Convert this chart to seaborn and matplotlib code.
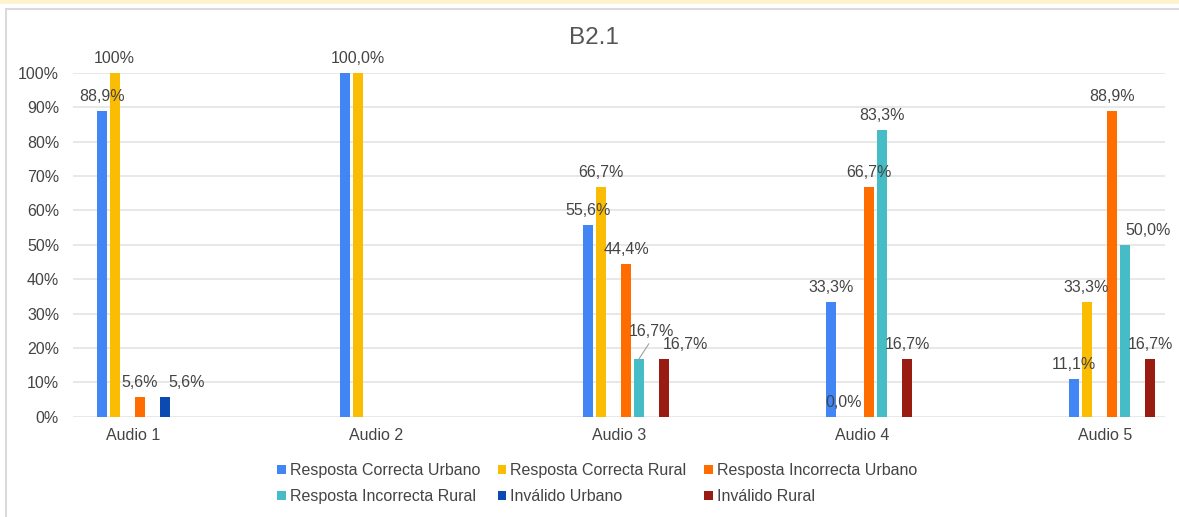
import numpy as np
import pandas as pd
import matplotlib
matplotlib.use("Agg")
import matplotlib.pyplot as plt
from matplotlib.patches import Patch, Rectangle
from matplotlib.lines import Line2D
import seaborn as sns

# ---- data -------------------------------------------------------------
audios = ["Audio 1", "Audio 2", "Audio 3", "Audio 4", "Audio 5"]
series = [
    "Resposta Correcta Urbano",
    "Resposta Correcta Rural",
    "Resposta Incorrecta Urbano",
    "Resposta Incorrecta Rural",
    "Inválido Urbano",
    "Inválido Rural",
]
correcta_urbano = [88.9, 100.0, 55.6, 33.3, 11.1]
correcta_rural = [100.0, 100.0, 66.7, 0.0, 33.3]
incorrecta_urbano = [5.6, None, 44.4, 66.7, 88.9]
incorrecta_rural = [None, None, 16.7, 83.3, 50.0]
invalido_urbano = [5.6, None, None, None, None]
invalido_rural = [None, None, 16.7, 16.7, 16.7]
y_ticks = [0, 10, 20, 30, 40, 50, 60, 70, 80, 90, 100]

values = [correcta_urbano, correcta_rural, incorrecta_urbano,
          incorrecta_rural, invalido_urbano, invalido_rural]

# ---- styling ----------------------------------------------------------
colors = ["#4285F4", "#FBBC04", "#FF6D01", "#46BDC6", "#0B4AB0", "#9A1B12"]
EMPTY = " "  # unused slot kept in the cluster between the two groups
hue_order = [series[0], series[1], EMPTY] + series[2:]
palette = {s: c for s, c in zip(series, colors)}
palette[EMPTY] = "#ffffff"
TEXT = "#444444"
FS = 11.5

# label placement tweaks (pixels) for crowded spots; None hides a label
label_shift = {
    ("Audio 1", "Inválido Urbano"): (21, 0),
    ("Audio 2", "Resposta Correcta Urbano"): None,
    ("Audio 3", "Resposta Incorrecta Rural"): (13, 13),
    ("Audio 3", "Inválido Rural"): (21, 0),
    ("Audio 5", "Resposta Incorrecta Rural"): (23, 0),
}
short_format = {("Audio 1", "Resposta Correcta Rural")}

rows = []
for s, vals in zip(series, values):
    for a, v in zip(audios, vals):
        if v is not None:
            rows.append({"audio": a, "serie": s, "valor": v})
df = pd.DataFrame(rows)

sns.set_theme(style="white")
plt.rcParams["font.family"] = ["Liberation Sans", "DejaVu Sans"]

fig = plt.figure(figsize=(11.79, 5.17), dpi=100)
W, H = 1179, 517
ax = fig.add_axes([73 / W, 1 - 416.7 / H, (1165 - 73) / W, (416.7 - 72.7) / H])

cluster_width = 0.366
sns.barplot(data=df, x="audio", y="valor", hue="serie", order=audios,
            hue_order=hue_order, palette=palette, width=cluster_width,
            gap=0.21, dodge=True, saturation=1, linewidth=0,
            errorbar=None, legend=False, ax=ax)

# axes cosmetics
ax.set_ylim(0, 100)
ax.set_yticks(y_ticks)
ax.set_yticklabels([f"{t}%" for t in y_ticks])
ax.set_xlim(-0.276, 4.218)
ax.set_xticks(np.arange(len(audios)) - 0.027)
ax.set_xticklabels(audios)
ax.set_xlabel("")
ax.set_ylabel("")
for sp in ax.spines.values():
    sp.set_visible(False)
ax.yaxis.grid(True, color="#e2e2e2", linewidth=1.1)
ax.set_axisbelow(True)
ax.tick_params(axis="y", length=0, pad=10, labelsize=FS, labelcolor=TEXT)
ax.tick_params(axis="x", length=0, pad=8, labelsize=FS, labelcolor=TEXT)

# value labels
n = len(hue_order)
slot = cluster_width / n
for s, vals in zip(series, values):
    k = hue_order.index(s)
    for i, (a, v) in enumerate(zip(audios, vals)):
        if v is None:
            continue
        key = (a, s)
        shift = label_shift.get(key, (0, 0))
        if shift is None:
            continue
        dx, dy = shift
        x = i + (k - (n - 1) / 2) * slot
        txt = "100%" if key in short_format else f"{v:.1f}".replace(".", ",") + "%"
        kw = {}
        if dy:
            kw["arrowprops"] = dict(arrowstyle="-", color="#a0a0a0", lw=0.8,
                                    shrinkA=1, shrinkB=0, relpos=(0.5, 0.0))
        ax.annotate(txt, xy=(x, v), xytext=(dx, 10 + dy),
                    textcoords="offset pixels", ha="center", va="baseline",
                    fontsize=FS, color=TEXT, **kw)

# legend: row-wise order in three columns
order = [0, 3, 1, 4, 2, 5]
handles = [Patch(facecolor=colors[j], edgecolor="none") for j in order]
labels = [series[j] for j in order]
fig.legend(handles, labels, loc="upper center",
           bbox_to_anchor=(597 / W, 1 - 455 / H), ncol=3, frameon=False,
           fontsize=FS, handlelength=0.55, handleheight=0.55,
           handletextpad=0.25, columnspacing=1.1, labelspacing=0.7,
           borderpad=0, labelcolor=TEXT)

# title
fig.text(594 / W, 1 - 38 / H, "B2.1", ha="center", va="center",
         fontsize=17.5, color="#555555")

# surrounding frame
fig.add_artist(Rectangle((0, 1 - 4 / H), 1, 4 / H, transform=fig.transFigure,
                         facecolor="#FFF2CC", edgecolor="none"))
fig.add_artist(Line2D([6 / W, 1], [1 - 8.5 / H, 1 - 8.5 / H],
                      transform=fig.transFigure, color="#dadada", lw=1.5))
fig.add_artist(Line2D([6 / W, 6 / W], [0, 1 - 8.5 / H],
                      transform=fig.transFigure, color="#dadada", lw=1.5))

fig.savefig("out.png", dpi=100)
